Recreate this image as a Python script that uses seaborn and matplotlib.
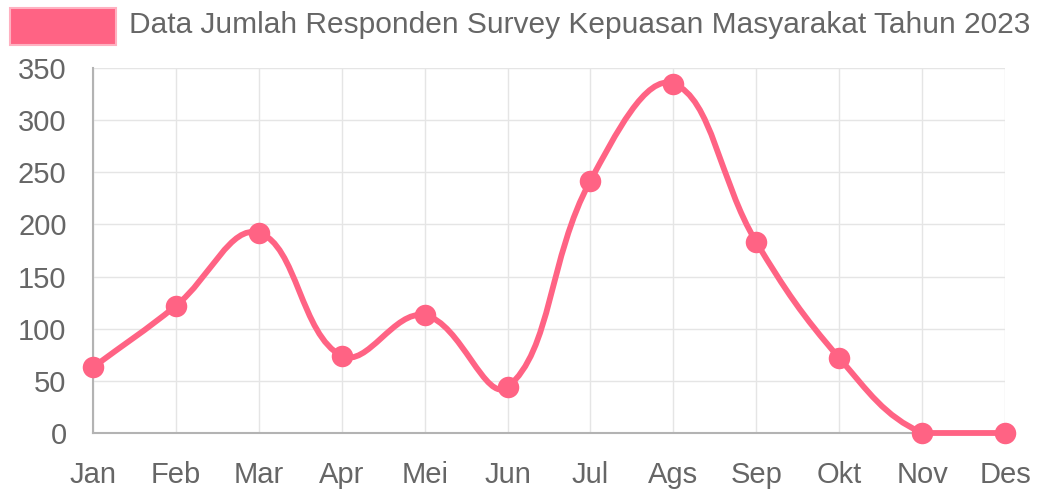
import numpy as np
import matplotlib
matplotlib.use("Agg")
import matplotlib.pyplot as plt
from matplotlib.path import Path
from matplotlib.patches import PathPatch, Rectangle
import seaborn as sns

months = ["Jan", "Feb", "Mar", "Apr", "Mei", "Jun", "Jul", "Ags", "Sep", "Okt", "Nov", "Des"]
respondents = [63, 122, 192, 74, 113, 44, 242, 335, 183, 72, 0, 0]
y_ticks = [0, 50, 100, 150, 200, 250, 300, 350]
legend_label = "Data Jumlah Responden Survey Kepuasan Masyarakat Tahun 2023"

line_color = "#ff6384"
grid_color = "#e5e5e5"
axis_color = "#b3b3b3"
text_color = "#666666"


def spline_path(xs, ys, sx, sy, ymin, ymax, tension=0.4):
    # bezier control points like Chart.js, computed in pixel space and capped to the area
    px = np.asarray(xs, float) * sx
    py = np.asarray(ys, float) * sy
    n = len(px)
    cps = []
    for i in range(n):
        p = np.array([px[max(i - 1, 0)], py[max(i - 1, 0)]])
        c = np.array([px[i], py[i]])
        q = np.array([px[min(i + 1, n - 1)], py[min(i + 1, n - 1)]])
        d01 = np.hypot(*(c - p))
        d12 = np.hypot(*(q - c))
        tot = d01 + d12
        s01 = d01 / tot if tot else 0
        s12 = d12 / tot if tot else 0
        prev_cp = c - tension * s01 * (q - p)
        next_cp = c + tension * s12 * (q - p)
        cps.append((prev_cp / [sx, sy], next_cp / [sx, sy]))
    verts = [(xs[0], ys[0])]
    codes = [Path.MOVETO]
    for i in range(n - 1):
        a = cps[i][1]
        b = cps[i + 1][0]
        verts += [(a[0], np.clip(a[1], ymin, ymax)), (b[0], np.clip(b[1], ymin, ymax)),
                  (xs[i + 1], ys[i + 1])]
        codes += [Path.CURVE4] * 3
    return Path(verts, codes)


sns.set_style("white")
plt.rcParams["font.family"] = ["Liberation Sans", "DejaVu Sans"]

fig = plt.figure(figsize=(10.38, 4.93), dpi=100)
ax = fig.add_axes([93 / 1038, 60 / 493, 912 / 1038, 365 / 493])

x = np.arange(len(months))
ax.set_xlim(0, len(months) - 1)
ax.set_ylim(0, 350)

sx = 912 / (len(months) - 1)
sy = 365 / 350
ax.add_patch(PathPatch(spline_path(x, respondents, sx, sy, 0, 350), facecolor="none",
                       edgecolor=line_color, lw=4.2, capstyle="round", joinstyle="round",
                       clip_on=False, zorder=3))

sns.scatterplot(x=x, y=respondents, ax=ax, color=line_color, s=240, edgecolor=line_color,
                linewidth=0, zorder=4, clip_on=False)

ax.set_xticks(x)
ax.set_xticklabels(months)
ax.set_yticks(y_ticks)
ax.grid(True, color=grid_color, linewidth=1)
ax.tick_params(axis="both", length=18, color=grid_color, labelcolor=text_color,
               labelsize=21, pad=1)
ax.tick_params(axis="x", pad=2)
for s in ["top", "right"]:
    ax.spines[s].set_visible(False)
for s in ["left", "bottom"]:
    ax.spines[s].set_color(axis_color)
    ax.spines[s].set_linewidth(1.5)
ax.set_axisbelow(True)

fig.patches.append(Rectangle((10 / 1038, 1 - 45 / 493), 106 / 1038, 37 / 493,
                             transform=fig.transFigure, facecolor=line_color,
                             edgecolor="#ffb1c1", linewidth=1.5))
fig.text(129 / 1038, 1 - 25 / 493, legend_label, color=text_color, fontsize=21.5,
         ha="left", va="center")

fig.savefig("out.png", dpi=100)
